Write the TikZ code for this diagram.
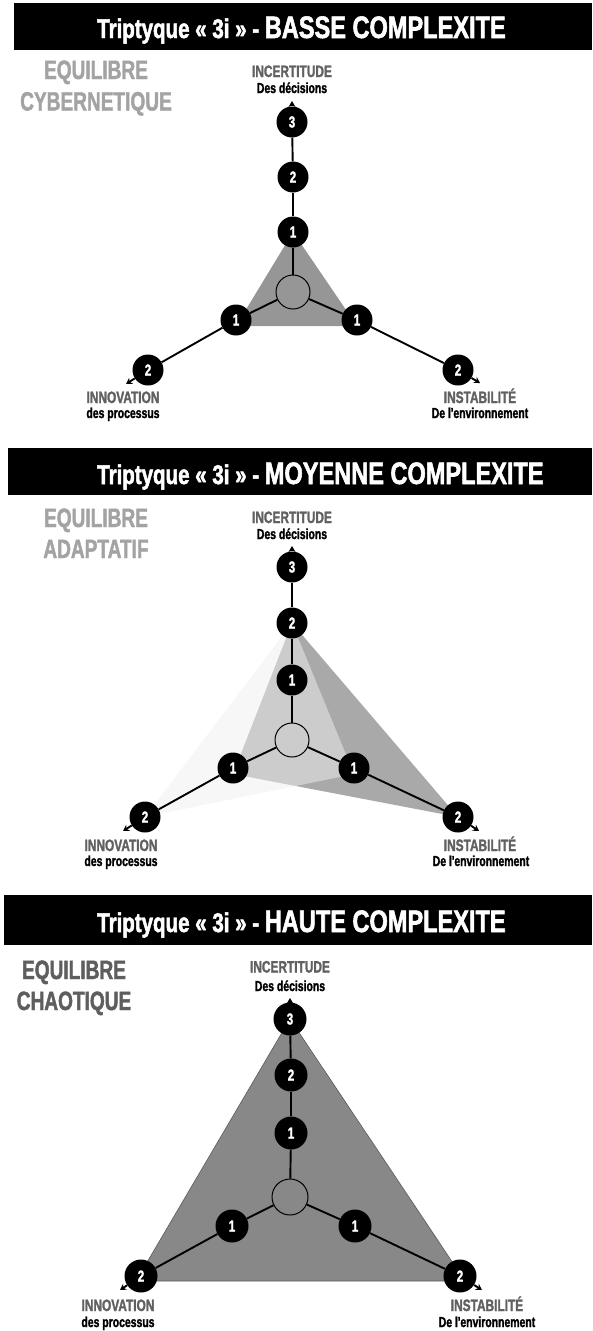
\documentclass[tikz,border=0pt]{standalone}
\usepackage{fontspec}
\setmainfont{Liberation Sans}
% heavy condensed faces for all the lettering
\newfontfamily\heavy[FakeStretch=0.72,FakeBold=1.6]{Liberation Sans}
\newfontfamily\heavytitle[FakeStretch=0.76,FakeBold=1.8]{Liberation Sans}
\usetikzlibrary{arrows.meta}

\pgfdeclarelayer{shade}
\pgfdeclarelayer{axes}
\pgfsetlayers{shade,axes,main}

\definecolor{regimelight}{HTML}{A3A3A3}
\definecolor{regimedark}{HTML}{5E5E5E}
\definecolor{axisgray}{HTML}{616161}
\definecolor{zonelow}{HTML}{969696}
\definecolor{zonemid}{HTML}{A9A9A9}
\definecolor{zonepale}{HTML}{F0F0F0}
\definecolor{zonehigh}{HTML}{888888}
\definecolor{zoneedge}{HTML}{5A5A5A}

\tikzset{
  titlebar/.style={fill=black, draw=none, anchor=north west, inner sep=0pt,
    minimum height=47pt},
  titletext/.style={text=white, anchor=base west, inner sep=0pt, font=\heavytitle\bfseries},
  regime/.style={anchor=base, inner sep=0pt, font=\heavy\bfseries\fontsize{26.5}{30}\selectfont},
  axisname/.style={anchor=base, inner sep=0pt, text=axisgray,
    font=\heavy\bfseries\fontsize{16.5}{18}\selectfont},
  axissub/.style={anchor=base, inner sep=0pt, text=black,
    font=\heavy\bfseries\fontsize{14.5}{16}\selectfont},
  level/.style={circle, fill=black, minimum size=31pt, inner sep=0pt, text=white,
    font=\heavy\bfseries\fontsize{16}{16}\selectfont},
  hub/.style={circle, draw=black, line width=1pt, minimum size=34pt, inner sep=0pt},
  axis/.style={line width=1.9pt, draw=black},
  axistip/.style={axis, -{Stealth[length=6pt,width=7pt]}},
}

\newcommand{\bigtitle}[1]{\fontsize{27}{27}\selectfont Triptyque « 3i » - \fontsize{31}{31}\selectfont #1}

\begin{document}
\begin{tikzpicture}[x=1pt,y=-1pt]
\useasboundingbox (0,0) rectangle (592,1331);

% ---------------- BASSE COMPLEXITE ----------------
\node[titlebar, minimum width=578pt] (bara) at (14,3) {};
\node[titletext] (titlea) at (97,38) {\bigtitle{BASSE COMPLEXITE}};
\node[regime, text=regimelight] (eqa) at (96,79) {EQUILIBRE};
\node[regime, text=regimelight] (kinda) at (96,110.5) {CYBERNETIQUE};
\node[axisname] (incA) at (292,77) {INCERTITUDE};
\node[axissub] (decA) at (292,93) {Des décisions};
\node[axisname] (innA) at (123,403) {INNOVATION};
\node[axissub] (proA) at (123,418) {des processus};
\node[axisname] (insA) at (480,403) {INSTABILITÉ};
\node[axissub] (envA) at (480,418) {De l'environnement};

\node[hub] (ca) at (293,292) {};
\node[level] (u1a) at (293,232) {1};
\node[level] (u2a) at (293,177) {2};
\node[level] (u3a) at (292,122) {3};
\node[level] (l1a) at (236,320) {1};
\node[level] (l2a) at (148,370) {2};
\node[level] (r1a) at (357,320) {1};
\node[level] (r2a) at (458,370) {2};
\coordinate (tua) at (292,101);
\coordinate (tla) at (126,384);
\coordinate (tra) at (480,383);

\begin{pgfonlayer}{shade}
  \fill[zonelow] (u1a.center) -- ([yshift=-6pt]l1a.center) -- ([yshift=-6pt]r1a.center) -- cycle;
\end{pgfonlayer}
\begin{pgfonlayer}{axes}
  \draw[axis] (ca) -- (u1a);
  \draw[axis] (u1a) -- (u2a);
  \draw[axis] (u2a) -- (u3a);
  \draw[axistip] (u3a) -- (tua);
  \draw[axis] (ca) -- (l1a);
  \draw[axis] (l1a) -- (l2a);
  \draw[axistip] (l2a) -- (tla);
  \draw[axis] (ca) -- (r1a);
  \draw[axis] (r1a) -- (r2a);
  \draw[axistip] (r2a) -- (tra);
\end{pgfonlayer}

% ---------------- MOYENNE COMPLEXITE ----------------
\node[titlebar, minimum width=584pt] (barb) at (8,448) {};
\node[titletext] (titleb) at (97,484) {\bigtitle{MOYENNE COMPLEXITE}};
\node[regime, text=regimelight] (eqb) at (96,527) {EQUILIBRE};
\node[regime, text=regimelight] (kindb) at (96,558) {ADAPTATIF};
\node[axisname] (incB) at (292,523) {INCERTITUDE};
\node[axissub] (decB) at (292,539) {Des décisions};
\node[axisname] (innB) at (121,851) {INNOVATION};
\node[axissub] (proB) at (121,866) {des processus};
\node[axisname] (insB) at (480,851) {INSTABILITÉ};
\node[axissub] (envB) at (481,866) {De l'environnement};

\node[hub] (cb) at (292,740) {};
\node[level] (u1b) at (292,680) {1};
\node[level] (u2b) at (292,623) {2};
\node[level] (u3b) at (292,567) {3};
\node[level] (l1b) at (233,768) {1};
\node[level] (l2b) at (145,817) {2};
\node[level] (r1b) at (354,768) {1};
\node[level] (r2b) at (458,817) {2};
\coordinate (tub) at (292,546);
\coordinate (tlb) at (123,831);
\coordinate (trb) at (479,831);

\begin{pgfonlayer}{shade}
  \fill[zonemid] (u2b.center) -- (r2b.center) -- ([yshift=-6pt]l1b.center) -- cycle;
  \fill[zonepale, fill opacity=0.5] (u2b.center) -- (l2b.center) -- ([yshift=-6pt]r1b.center) -- cycle;
\end{pgfonlayer}
\begin{pgfonlayer}{axes}
  \draw[axis] (cb) -- (u1b);
  \draw[axis] (u1b) -- (u2b);
  \draw[axis] (u2b) -- (u3b);
  \draw[axistip] (u3b) -- (tub);
  \draw[axis] (cb) -- (l1b);
  \draw[axis] (l1b) -- (l2b);
  \draw[axistip] (l2b) -- (tlb);
  \draw[axis] (cb) -- (r1b);
  \draw[axis] (r1b) -- (r2b);
  \draw[axistip] (r2b) -- (trb);
\end{pgfonlayer}

% ---------------- HAUTE COMPLEXITE ----------------
\node[titlebar, minimum width=588pt, minimum height=50pt] (barc) at (4,895) {};
\node[titletext] (titlec) at (97,932) {\bigtitle{HAUTE COMPLEXITE}};
\node[regime, text=regimedark] (eqc) at (74,979) {EQUILIBRE};
\node[regime, text=regimedark] (kindc) at (74,1010) {CHAOTIQUE};
\node[axisname] (incC) at (290,972.5) {INCERTITUDE};
\node[axissub] (decC) at (290,991) {Des décisions};
\node[axisname] (innC) at (118,1311) {INNOVATION};
\node[axissub] (proC) at (118,1327) {des processus};
\node[axisname] (insC) at (487,1311) {INSTABILITÉ};
\node[axissub] (envC) at (487,1327) {De l'environnement};

\node[hub, minimum size=36pt] (cc) at (290,1197) {};
\node[level, minimum size=33pt] (u1c) at (291,1133) {1};
\node[level, minimum size=33pt] (u2c) at (291,1075) {2};
\node[level, minimum size=33pt] (u3c) at (290,1019) {3};
\node[level, minimum size=33pt] (l1c) at (232,1226) {1};
\node[level, minimum size=33pt] (l2c) at (141,1276) {2};
\node[level, minimum size=33pt] (r1c) at (355,1226) {1};
\node[level, minimum size=33pt] (r2c) at (460,1276) {2};
\coordinate (tuc) at (290,998);
\coordinate (tlc) at (120,1290);
\coordinate (trc) at (482,1290);

\begin{pgfonlayer}{shade}
  \filldraw[fill=zonehigh, draw=zoneedge, line width=0.6pt]
    (u3c.center) -- ([xshift=-5pt,yshift=-5pt]l2c.center)
    -- ([xshift=5pt,yshift=-5pt]r2c.center) -- cycle;
\end{pgfonlayer}
\begin{pgfonlayer}{axes}
  \draw[axis] (cc) -- (u1c);
  \draw[axis] (u1c) -- (u2c);
  \draw[axis] (u2c) -- (u3c);
  \draw[axistip] (u3c) -- (tuc);
  \draw[axis] (cc) -- (l1c);
  \draw[axis] (l1c) -- (l2c);
  \draw[axistip] (l2c) -- (tlc);
  \draw[axis] (cc) -- (r1c);
  \draw[axis] (r1c) -- (r2c);
  \draw[axistip] (r2c) -- (trc);
\end{pgfonlayer}
\end{tikzpicture}
\end{document}
